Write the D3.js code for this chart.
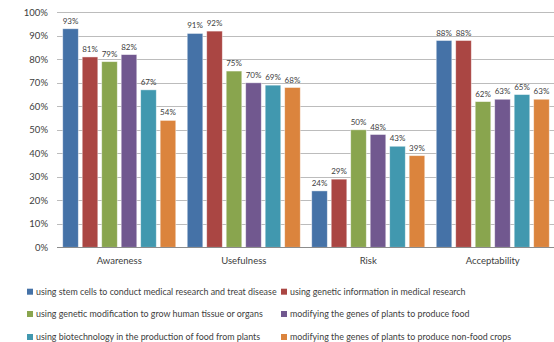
<!DOCTYPE html>
<html>
<head>
<meta charset="utf-8">
<script src="https://cdn.jsdelivr.net/npm/d3@7"></script>
<style>
  html, body { margin: 0; padding: 0; background: #fff; }
  svg { display: block; font-family: Lato, "Open Sans", sans-serif; }
</style>
</head>
<body>
<svg id="chart" width="554" height="342"></svg>
<script>
// Attitudes towards biotechnology applications, share of respondents
const categories = ["Awareness", "Usefulness", "Risk", "Acceptability"];
const seriesNames = [
  "using stem cells to conduct medical research and treat disease",
  "using genetic information in medical research",
  "using genetic modification to grow human tissue or organs",
  "modifying the genes of plants to produce food",
  "using biotechnology in the production of food from plants",
  "modifying the genes of plants to produce non-food crops"
];
const stemCells      = [93, 91, 24, 88];
const geneticInfo    = [81, 92, 29, 88];
const humanTissue    = [79, 75, 50, 62];
const plantsFood     = [82, 70, 48, 63];
const biotechFood    = [67, 69, 43, 65];
const plantsNonFood  = [54, 68, 39, 63];
const seriesValues = [stemCells, geneticInfo, humanTissue, plantsFood, biotechFood, plantsNonFood];
const yTicks = [0, 10, 20, 30, 40, 50, 60, 70, 80, 90, 100];
const colors = ["#4572A7", "#AA4643", "#89A54E", "#71588F", "#4198AF", "#DB843D"];

const svg = d3.select("#chart");
const plot = { left: 57, right: 555, top: 12.3, bottom: 247.3 };

const x0 = d3.scaleBand().domain(categories).range([plot.left, plot.right])
  .paddingInner(0.092).paddingOuter(0.046);
const x1 = d3.scaleBand().domain(d3.range(seriesNames.length))
  .range([0, x0.bandwidth()]).paddingInner(0.2).paddingOuter(0);
const y = d3.scaleLinear().domain([0, 100]).range([plot.bottom, plot.top]);

// Horizontal gridlines
svg.append("g").selectAll("line").data(yTicks.filter(t => t > 0)).join("line")
  .attr("x1", plot.left).attr("x2", 554)
  .attr("y1", d => Math.round(y(d)) + 0.5).attr("y2", d => Math.round(y(d)) + 0.5)
  .attr("stroke", "#bcbcbc").attr("stroke-width", 1);

// Y axis tick labels
const yAxis = d3.axisLeft(y).tickValues(yTicks).tickFormat(d => d + "%").tickSize(0).tickPadding(9);
const yg = svg.append("g").attr("transform", `translate(${plot.left},0)`).call(yAxis);
yg.select(".domain").remove();
yg.selectAll("text").attr("font-size", 9.5).attr("fill", "#404040")
  .attr("font-family", "Lato, 'Open Sans', sans-serif");

// Bars
const groups = svg.append("g").selectAll("g").data(categories).join("g")
  .attr("transform", c => `translate(${x0(c)},0)`);
groups.selectAll("rect")
  .data((c, ci) => seriesValues.map((vals, si) => ({ si, v: vals[ci] })))
  .join("rect")
  .attr("x", d => x1(d.si)).attr("width", x1.bandwidth())
  .attr("y", d => y(d.v)).attr("height", d => plot.bottom - y(d.v))
  .attr("fill", d => colors[d.si])
  .attr("stroke", "#ffffff").attr("stroke-opacity", 0.55).attr("stroke-width", 0.8);

// Value labels
groups.selectAll("text")
  .data((c, ci) => seriesValues.map((vals, si) => ({ si, v: vals[ci] })))
  .join("text")
  .attr("x", d => x1(d.si) + x1.bandwidth() / 2)
  .attr("y", d => y(d.v) - 5)
  .attr("text-anchor", "middle").attr("font-size", 8).attr("fill", "#404040")
  .text(d => d.v + "%");

// X axis baseline and category labels
svg.append("line").attr("x1", plot.left).attr("x2", 554)
  .attr("y1", Math.round(plot.bottom) + 0.5).attr("y2", Math.round(plot.bottom) + 0.5)
  .attr("stroke", "#8c8c8c").attr("stroke-width", 1);
const xAxis = d3.axisBottom(x0).tickSize(0).tickPadding(10);
const xg = svg.append("g").attr("transform", `translate(0,${plot.bottom})`).call(xAxis);
xg.select(".domain").remove();
xg.selectAll("text").attr("font-size", 9.5).attr("fill", "#404040")
  .attr("font-family", "Lato, 'Open Sans', sans-serif");

// Legend: two columns, three rows
const legend = svg.append("g");
const colX = [27, 281];
const rowY = [291.7, 314, 337];
const items = legend.selectAll("g").data(seriesNames).join("g")
  .attr("transform", (d, i) => `translate(${colX[i % 2]},${rowY[Math.floor(i / 2)]})`);
items.append("rect").attr("x", 0).attr("y", -3).attr("width", 6).attr("height", 6)
  .attr("fill", (d, i) => colors[i]);
items.append("text").attr("x", 9).attr("y", 0).attr("dy", "0.35em")
  .attr("font-size", 8.9).attr("fill", "#404040").text(d => d);
</script>
</body>
</html>
